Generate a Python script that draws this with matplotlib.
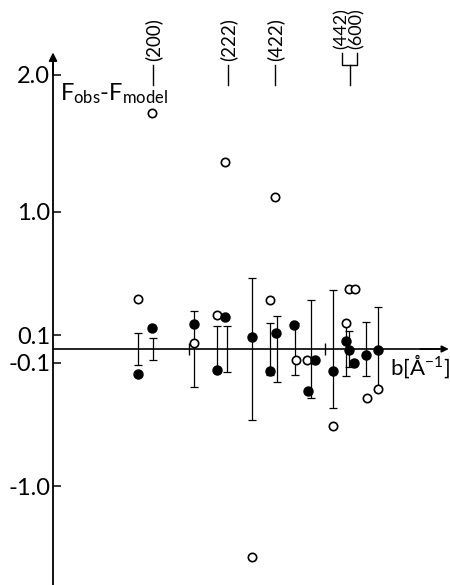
import numpy as np
import matplotlib
matplotlib.use("Agg")
import matplotlib.pyplot as plt

plt.rcParams['font.family'] = ['Lato', 'DejaVu Sans']
plt.rcParams['mathtext.fontset'] = 'custom'
plt.rcParams['mathtext.rm'] = 'Lato'
plt.rcParams['mathtext.it'] = 'Lato:italic'

# ---- data (b in 1/Angstrom, differences F_obs - F_model) ----
b_open = [0.314, 0.365, 0.518, 0.602, 0.633, 0.733, 0.798, 0.816, 0.892, 0.933,
          1.030, 1.076, 1.088, 1.110, 1.153, 1.194]
d_open = [0.365, 1.72, 0.045, 0.25, 1.365, -1.52, 0.355, 1.11, -0.08, -0.08,
          -0.56, 0.19, 0.435, 0.435, -0.36, -0.29]

b_filled = [0.314, 0.363, 0.518, 0.602, 0.632, 0.731, 0.798, 0.820, 0.887, 0.939,
            0.963, 1.030, 1.076, 1.088, 1.107, 1.150, 1.194]
d_filled = [-0.185, 0.15, 0.18, -0.153, 0.23, 0.085, -0.16, 0.12, 0.175, -0.31,
            -0.08, -0.16, 0.06, -0.01, -0.105, -0.045, -0.01]

b_err = [0.314, 0.367, 0.518, 0.602, 0.639, 0.732, 0.798, 0.822, 0.890, 0.949,
         1.030, 1.076, 1.088, 1.150, 1.194]
sigma = [0.12, 0.078, 0.28, 0.165, 0.165, 0.52, 0.19, 0.24, 0.19, 0.355,
         0.43, 0.2, 0.13, 0.2, 0.31]

hkl_labels = ["(200)", "(222)", "(422)", "(442)", "(600)"]
hkl_b = [0.368, 0.643, 0.816, 1.0625, 1.118]
hkl_line_b = [0.368, 0.643, 0.816, 1.092]

ytick_vals = [2.0, 1.0, 0.1, -0.1, -1.0]
ytick_labels = ["2.0", "1.0", "0.1", "-0.1", "-1.0"]
xtick_vals = [0.5, 1.0]

# ---- figure ----
fig = plt.figure(figsize=(4.5, 5.85), dpi=100)
ax = fig.add_axes([0, 0, 1, 1])
ax.set_xlim(-0.1949, 1.4596)
ax.set_ylim(-1.7226, 2.5474)
ax.patch.set_visible(False)

for s in ['top', 'right']:
    ax.spines[s].set_visible(False)
ax.spines['left'].set_position(('data', 0))
ax.spines['bottom'].set_position(('data', 0))
ax.spines['left'].set_bounds(-1.75, 2.12)
ax.spines['bottom'].set_bounds(0, 1.42)
ax.spines['left'].set_linewidth(1.3)
ax.spines['bottom'].set_linewidth(1.2)

# arrow heads
ax.annotate('', xy=(0, 2.165), xytext=(0, 2.0),
            arrowprops=dict(arrowstyle='-|>', lw=1.3, color='k', mutation_scale=12,
                            shrinkA=0, shrinkB=0))
ax.annotate('', xy=(1.455, 0), xytext=(1.35, 0),
            arrowprops=dict(arrowstyle='-|>', lw=1.2, color='k', mutation_scale=10,
                            shrinkA=0, shrinkB=0))

ax.set_yticks(ytick_vals)
ax.set_yticklabels(ytick_labels)
ax.tick_params(axis='y', direction='in', length=6, width=1.1, pad=2, labelsize=17)
ax.set_xticks(xtick_vals)
ax.set_xticklabels([])
ax.tick_params(axis='x', direction='inout', length=8, width=1.0)

# error bars (centred on zero)
ax.errorbar(b_err, np.zeros(len(b_err)), yerr=sigma, fmt='none', ecolor='k',
            elinewidth=0.9, capsize=3, capthick=0.9, zorder=2)

# data points
ax.plot(b_open, d_open, linestyle='none', marker='o', mfc='white', mec='k',
        ms=6, mew=1.2, zorder=3, clip_on=False)
ax.plot(b_filled, d_filled, linestyle='none', marker='o', mfc='k', mec='k',
        ms=6.5, mew=1.0, zorder=4, clip_on=False)

# hkl markers
for xb in hkl_line_b:
    ax.plot([xb, xb], [1.927, 2.073], color='k', lw=1.0)
for lab, xb in zip(hkl_labels[:3], hkl_b[:3]):
    ax.text(xb, 2.10, lab, rotation=90, ha='center', va='bottom', fontsize=13.5)
for lab, xb in zip(hkl_labels[3:], hkl_b[3:]):
    ax.text(xb, 2.19, lab, rotation=90, ha='center', va='bottom', fontsize=13)
ax.plot([hkl_b[3], hkl_b[3], hkl_b[4], hkl_b[4]], [2.16, 2.073, 2.073, 2.16],
        color='k', lw=1.0)

# labels
ax.text(0.026, 1.818, r'F$_{\mathrm{obs}}$-F$_{\mathrm{model}}$', fontsize=17,
        ha='left', va='baseline')
ax.text(1.238, -0.19, r'b[Å$^{-1}$]', fontsize=16, ha='left', va='baseline')

fig.savefig('out.png', dpi=100)
